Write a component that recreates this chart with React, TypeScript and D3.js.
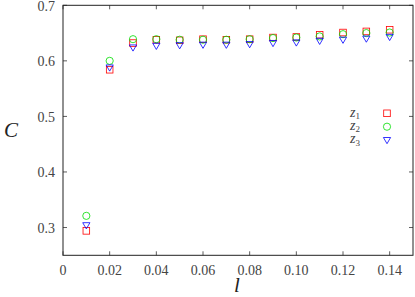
import React from "react";
import * as d3 from "d3";

const lValues = [0.01, 0.02, 0.03, 0.04, 0.05, 0.06, 0.07, 0.08, 0.09, 0.10, 0.11, 0.12, 0.13, 0.14];
const z1 = [0.294, 0.584, 0.632, 0.638, 0.637, 0.639, 0.638, 0.639, 0.642, 0.643, 0.647, 0.651, 0.653, 0.656];
const z2 = [0.321, 0.600, 0.639, 0.639, 0.638, 0.638, 0.638, 0.639, 0.641, 0.642, 0.644, 0.648, 0.650, 0.651];
const z3 = [0.304, 0.588, 0.624, 0.627, 0.628, 0.629, 0.629, 0.630, 0.632, 0.633, 0.636, 0.638, 0.640, 0.643];
const xTicks = [0, 0.02, 0.04, 0.06, 0.08, 0.10, 0.12, 0.14];
const xTickLabels = ["0", "0.02", "0.04", "0.06", "0.08", "0.10", "0.12", "0.14"];
const yTicks = [0.3, 0.4, 0.5, 0.6, 0.7];
const yTickLabels = ["0.3", "0.4", "0.5", "0.6", "0.7"];
const seriesNames = ["1", "2", "3"];
const seriesColors = ["#ff0000", "#00dd00", "#0000ff"];

const W = 415, H = 297;
const M = { left: 63, right: 2, top: 5.3, bottom: 41.7 };

export default function App() {
  const x = d3.scaleLinear().domain([0, 0.15]).range([M.left, W - M.right]);
  const y = d3.scaleLinear().domain([0.25, 0.7]).range([H - M.bottom, M.top]);
  const series = [z1, z2, z3];
  const font = "'Liberation Serif', 'DejaVu Serif', serif";
  const tl = 4;

  const marker = (k: number, cx: number, cy: number, color: string, key: string) => {
    if (k === 0) return <rect key={key} x={cx - 3.3} y={cy - 3.3} width={6.6} height={6.6} fill="none" stroke={color} strokeWidth={0.8} />;
    if (k === 1) return <circle key={key} cx={cx} cy={cy} r={3.6} fill="none" stroke={color} strokeWidth={0.8} />;
    const p = d3.path();
    p.moveTo(cx - 3.6, cy - 2.6);
    p.lineTo(cx + 3.6, cy - 2.6);
    p.lineTo(cx, cy + 3.6);
    p.closePath();
    return <path key={key} d={p.toString()} fill="none" stroke={color} strokeWidth={0.8} />;
  };

  const x0 = M.left, x1 = W - M.right, y0 = H - M.bottom, y1 = M.top;

  return (
    <svg width={W} height={H} style={{ position: "absolute", left: 0, top: 0 }}>
      <rect width={W} height={H} fill="white" />
      {xTicks.map((t, i) => (
        <g key={"xt" + i}>
          <line x1={x(t)} x2={x(t)} y1={y0} y2={y0 - tl} stroke="#333" strokeWidth={0.8} />
          <line x1={x(t)} x2={x(t)} y1={y1} y2={y1 + tl} stroke="#333" strokeWidth={0.8} />
          <text x={x(t)} y={y0 + 20} textAnchor="middle" fontFamily={font} fontSize={14} fill="#444">{xTickLabels[i]}</text>
        </g>
      ))}
      {yTicks.map((t, i) => (
        <g key={"yt" + i}>
          <line x1={x0} x2={x0 + tl} y1={y(t)} y2={y(t)} stroke="#333" strokeWidth={0.8} />
          <line x1={x1} x2={x1 - tl} y1={y(t)} y2={y(t)} stroke="#333" strokeWidth={0.8} />
          <text x={x0 - 8} y={y(t) + 5.5} textAnchor="end" fontFamily={font} fontSize={14} fill="#444">{yTickLabels[i]}</text>
        </g>
      ))}
      <rect x={x0} y={y1} width={x1 - x0} height={y0 - y1} fill="none" stroke="#222" strokeWidth={1} />
      {series.map((s, k) => s.map((v, i) => marker(k, x(lValues[i]), y(v), seriesColors[k], `m${k}-${i}`)))}
      {seriesNames.map((n, k) => (
        <g key={"lg" + k}>
          <text x={360} y={116.5 + k * 13.4} textAnchor="end" fontFamily={font} fontSize={14} fill="#444">
            <tspan fontStyle="italic">z</tspan>
            <tspan fontSize={9} dy={2.5}>{n}</tspan>
          </text>
          {marker(k, 387, 113.3 + k * 13.4, seriesColors[k], "lm" + k)}
        </g>
      ))}
      <text x={11} y={137} textAnchor="middle" fontFamily={font} fontStyle="italic" fontSize={21} fill="#222">C</text>
      <text x={237} y={292} textAnchor="middle" fontFamily={font} fontStyle="italic" fontSize={21} fill="#222">l</text>
    </svg>
  );
}
